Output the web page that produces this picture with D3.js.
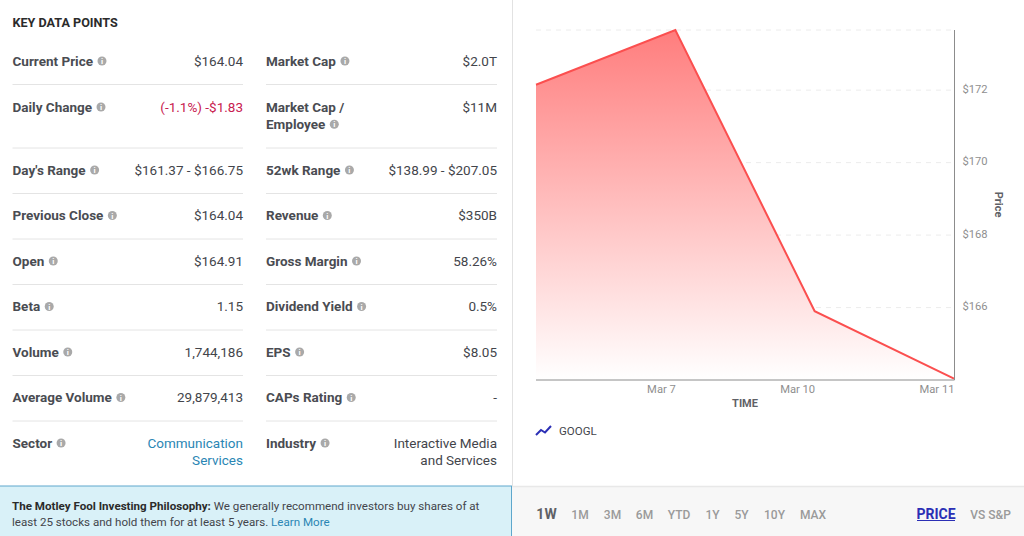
<!DOCTYPE html>
<html><head><meta charset="utf-8">
<script src="https://cdn.jsdelivr.net/npm/d3@7/dist/d3.min.js"></script>
<style>html,body{margin:0;padding:0;background:#fff;overflow:hidden}svg{display:block;font-family:Roboto,sans-serif}</style>
</head><body><svg id="c" width="1024" height="536"></svg>
<script>
const dates = ["Mar 6","Mar 7","Mar 10","Mar 11"];
const prices = [172.15,173.66,165.9,164.04];
const priceTicks = [166,168,170,172];
const gridValues = [166,168,170,172,173.66];
const dateTicks = ["Mar 7","Mar 10","Mar 11"];
const ranges = ["1W","1M","3M","6M","YTD","1Y","5Y","10Y","MAX"];
const leftLabels = [["Current Price"],["Daily Change"],["Day's Range"],["Previous Close"],["Open"],["Beta"],["Volume"],["Average Volume"],["Sector"]];
const leftValues = [["$164.04"],["(-1.1%) -$1.83"],["$161.37 - $166.75"],["$164.04"],["$164.91"],["1.15"],["1,744,186"],["29,879,413"],["Communication","Services"]];
const rightLabels = [["Market Cap"],["Market Cap /","Employee"],["52wk Range"],["Revenue"],["Gross Margin"],["Dividend Yield"],["EPS"],["CAPs Rating"],["Industry"]];
const rightValues = [["$2.0T"],["$11M"],["$138.99 - $207.05"],["$350B"],["58.26%"],["0.5%"],["$8.05"],["-"],["Interactive Media","and Services"]];

const svg = d3.select("#c");
const rowTop = [61,107,170,215.5,261,306.5,352,397.5,443];
const seps = [84.5,148,193.5,239,284.5,330,375.5,421];
const LH = 17.3;

svg.append("text").attr("x",12.5).attr("y",27).attr("font-size",12.6).attr("font-weight",700).attr("fill","#2b2b2b").text("KEY DATA POINTS");

function column(labels, values, x0, x1, vcolor){
  seps.forEach(y=>svg.append("line").attr("x1",x0).attr("x2",x1).attr("y1",y).attr("y2",y).attr("stroke","#e4e4e4").attr("stroke-width",1));
  labels.forEach((ls,i)=>{
    const y0=rowTop[i];
    let last;
    ls.forEach((s,k)=>{
      last=svg.append("text").attr("x",x0).attr("y",y0+k*LH+4.8).attr("font-size",13.5).attr("font-weight",700).attr("fill","#4a4c52").text(s);
    });
    const w=last.node().getComputedTextLength();
    const cx=x0+w+9, cy=y0+(ls.length-1)*LH;
    svg.append("circle").attr("cx",cx).attr("cy",cy).attr("r",4.5).attr("fill","#a9a9a9");
    svg.append("text").attr("x",cx).attr("y",cy+3).attr("text-anchor","middle").attr("font-size",8).attr("font-weight",700).attr("fill","#fff").text("i");
    values[i].forEach((s,k)=>{
      svg.append("text").attr("x",x1).attr("y",y0+k*LH+4.8).attr("text-anchor","end").attr("font-size",13.5).attr("fill",vcolor(i)).text(s);
    });
  });
}
column(leftLabels,leftValues,12.5,243,i=>i===1?"#c8204f":i===8?"#2a86b4":"#43454b");
column(rightLabels,rightValues,266,497,()=>"#43454b");

// Panel dividers and footer
svg.append("line").attr("x1",512.5).attr("x2",512.5).attr("y1",0).attr("y2",486).attr("stroke","#e2e2e2");
svg.append("rect").attr("x",512).attr("y",486).attr("width",512).attr("height",50).attr("fill","#f7f7f7");
svg.append("line").attr("x1",512).attr("x2",1024).attr("y1",486.5).attr("y2",486.5).attr("stroke","#e8e8e8").attr("stroke-width",1.5);
svg.append("rect").attr("x",0).attr("y",486).attr("width",512).attr("height",50).attr("fill","#d9f1f8");
svg.append("line").attr("x1",0).attr("x2",512).attr("y1",486).attr("y2",486).attr("stroke","#5ea7cc").attr("stroke-width",1);
svg.append("line").attr("x1",511.5).attr("x2",511.5).attr("y1",486).attr("y2",536).attr("stroke","#5ea7cc").attr("stroke-width",1);
const p1=svg.append("text").attr("x",12).attr("y",510).attr("font-size",11.6).attr("fill","#43454b");
p1.append("tspan").attr("font-weight",700).attr("fill","#2b2b2b").text("The Motley Fool Investing Philosophy:");
p1.append("tspan").text(" We generally recommend investors buy shares of at");
const p2=svg.append("text").attr("x",12).attr("y",526).attr("font-size",11.6).attr("fill","#43454b");
p2.append("tspan").text("least 25 stocks and hold them for at least 5 years. ");
p2.append("tspan").attr("fill","#2a86b4").text("Learn More");

// Chart
const y=d3.scaleLinear().domain([164.04,173.66]).range([378.6,30]);
const x=d3.scalePoint().domain(dates).range([536,954]);
const defs=svg.append("defs");
const g=defs.append("linearGradient").attr("id","fillG").attr("x1",0).attr("x2",0).attr("y1",0).attr("y2",1);
g.append("stop").attr("offset","0%").attr("stop-color","#ff7d7d");
g.append("stop").attr("offset","100%").attr("stop-color","#ffffff");

svg.append("g").selectAll("line").data(gridValues).join("line")
  .attr("x1",536).attr("x2",954).attr("y1",d=>y(d)).attr("y2",d=>y(d))
  .attr("stroke","#ececec").attr("stroke-dasharray","5 5");

const bottomY=379.5;
svg.append("path").datum(prices)
  .attr("d",d3.area().x((d,i)=>x(dates[i])).y0(bottomY).y1(d=>y(d)))
  .attr("fill","url(#fillG)");
svg.append("path").datum(prices)
  .attr("d",d3.line().x((d,i)=>x(dates[i])).y(d=>y(d)))
  .attr("fill","none").attr("stroke","#fb4f4f").attr("stroke-width",2);

const ax=svg.append("g").attr("transform",`translate(0,${bottomY})`)
  .call(d3.axisBottom(x).tickValues(dateTicks).tickSize(0).tickPadding(6));
ax.select(".domain").attr("stroke","#8c8c8c").attr("d","M536,0.5H954.5");
ax.selectAll("text").attr("text-anchor","end").attr("font-size",11.2).attr("font-family","Roboto,sans-serif").attr("fill","#8f8f8f");

const ay=svg.append("g").attr("transform","translate(954.5,0)")
  .call(d3.axisRight(y).tickValues(priceTicks).tickFormat(d=>"$"+d).tickSize(0).tickPadding(8));
ay.select(".domain").attr("stroke","#8c8c8c").attr("d","M0,30V380");
ay.selectAll("text").attr("font-size",11.2).attr("font-family","Roboto,sans-serif").attr("fill","#8f8f8f").attr("dy","0.2em");

svg.append("text").attr("x",745).attr("y",407).attr("text-anchor","middle").attr("font-size",11).attr("font-weight",700).attr("fill","#5f6166").text("TIME");
svg.append("text").attr("transform","translate(995,204.5) rotate(90)").attr("text-anchor","middle").attr("font-size",11).attr("font-weight",700).attr("fill","#5f6166").text("Price");

// Legend
svg.append("path").attr("d",d3.line()([[536,435],[541,430],[545,432.5],[551,426]])).attr("fill","none").attr("stroke","#2b2fb5").attr("stroke-width",2);
svg.append("text").attr("x",559).attr("y",435).attr("font-size",11.5).attr("fill","#43454b").text("GOOGL");

// Range buttons
const rangeCenters=[546.5,580,612.5,644.5,679,712.5,741.5,774.5,813];
ranges.forEach((r,i)=>{
  svg.append("text").attr("x",rangeCenters[i]).attr("y",r==="1W"?519:518.5).attr("text-anchor","middle")
   .attr("font-size",r==="1W"?14:12).attr("font-weight",r==="1W"?700:500).attr("fill",r==="1W"?"#5f6166":"#9a9a9a").text(r);
});
svg.append("text").attr("x",936).attr("y",518.5).attr("text-anchor","middle").attr("font-size",14).attr("font-weight",700).attr("fill","#2b2fb5").text("PRICE");
svg.append("line").attr("x1",917).attr("x2",955).attr("y1",520.5).attr("y2",520.5).attr("stroke","#2b2fb5").attr("stroke-width",1.2);
svg.append("text").attr("x",990.5).attr("y",518.5).attr("text-anchor","middle").attr("font-size",12).attr("font-weight",500).attr("fill","#9a9a9a").text("VS S&P");
</script></body></html>
